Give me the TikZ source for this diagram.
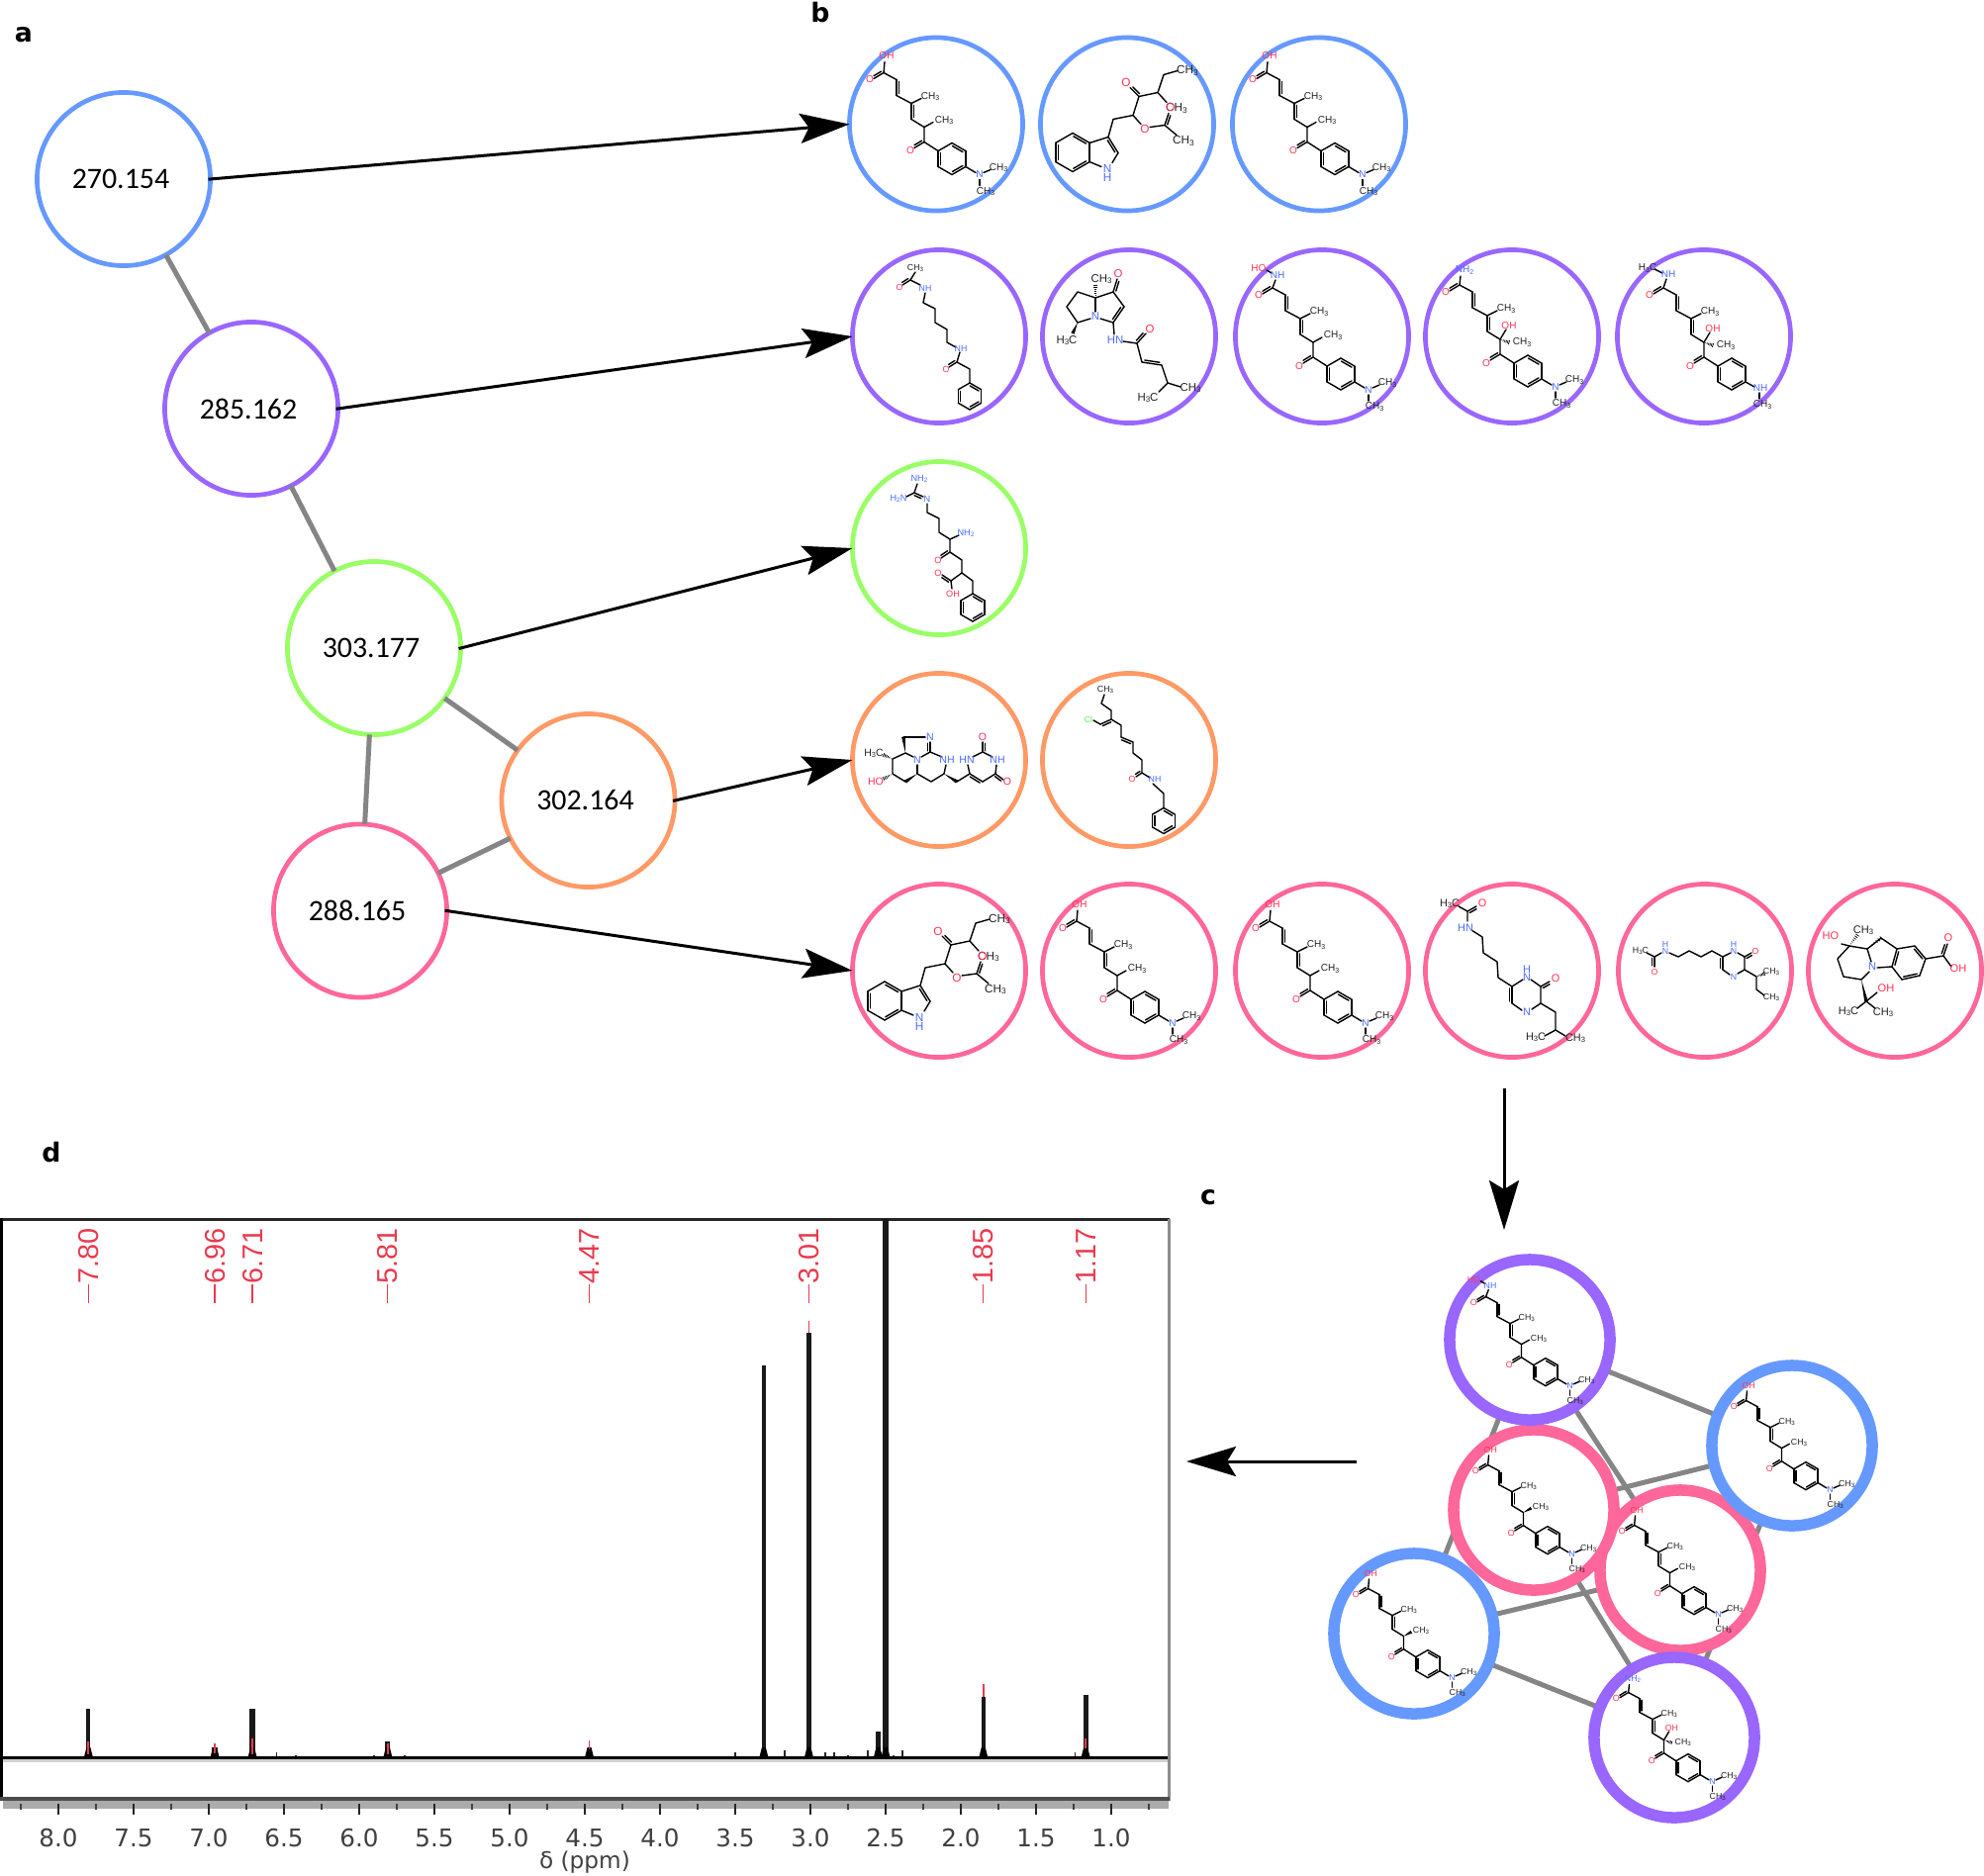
\documentclass[tikz,border=0pt]{standalone}
\usepackage{fontspec}
\setmainfont{Liberation Sans}
\newfontfamily\massfont{Carlito}
\newfontfamily\specfont{DejaVu Sans}
\usetikzlibrary{arrows.meta,calc,backgrounds}
\definecolor{cblue}{HTML}{6699FF}
\definecolor{cpurple}{HTML}{9966FF}
\definecolor{cgreen}{HTML}{99FF66}
\definecolor{corange}{HTML}{FF9966}
\definecolor{cpink}{HTML}{FF6699}
\definecolor{ared}{HTML}{FF3355}
\definecolor{ablue}{HTML}{4D6CFF}
\definecolor{agreen}{HTML}{55F055}
\definecolor{atxt}{HTML}{222222}
\definecolor{specred}{HTML}{E83A4E}
\definecolor{edgegray}{HTML}{858585}
\def\asz{2.85}
\newcommand\subn[1]{\raisebox{-.22ex}{\scalebox{.7}{#1}}}
\newcommand\CHt{CH\subn{3}}
\newcommand\HtC{H\subn{3}C}
\newcommand\NHt{NH\subn{2}}
\newcommand\HtN{H\subn{2}N}
\newcommand\mass[1]{\kern-.06cm\raisebox{-.015cm}{#1}}
\newcommand\atm[4]{\node[atomlabel,text=#3] at (#1,#2) {#4};}
\newcommand\mdbl[5]{%
 \pgfmathsetmacro\mL{veclen(#3-(#1),#4-(#2))}%
 \pgfmathsetmacro\mNx{-(#4-(#2))/\mL*2.4*(#5)}%
 \pgfmathsetmacro\mNy{(#3-(#1))/\mL*2.4*(#5)}%
 \pgfmathsetmacro\mDx{(#3-(#1))*.12}%
 \pgfmathsetmacro\mDy{(#4-(#2))*.12}%
 \draw[bond] (#1,#2)--(#3,#4);
 \draw[bond] ({#1+\mDx+\mNx},{#2+\mDy+\mNy})--({#3-\mDx+\mNx},{#4-\mDy+\mNy});}
\newcommand\mbenz[3]{%
 \pgfmathsetmacro\bL{#1-#3*.866}\pgfmathsetmacro\bR{#1+#3*.866}%
 \pgfmathsetmacro\bT{#2-#3}\pgfmathsetmacro\bU{#2-#3*.5}%
 \pgfmathsetmacro\bW{#2+#3*.5}\pgfmathsetmacro\bB{#2+#3}%
 \mdbl{#1}{\bT}{\bR}{\bU}{1}
 \draw[bond] (\bR,\bU)--(\bR,\bW);
 \mdbl{\bR}{\bW}{#1}{\bB}{1}
 \draw[bond] (#1,\bB)--(\bL,\bW);
 \mdbl{\bL}{\bW}{\bL}{\bU}{1}
 \draw[bond] (\bL,\bU)--(#1,\bT);}
\newcommand\mwdg[4]{\fill[black] (#1,#2)--($(#3,#4)!0.018cm!90:(#1,#2)$)--($(#3,#4)!0.018cm!-90:(#1,#2)$)--cycle;}
\newcommand\mhsh[4]{%
 \foreach \hh in {.2,.36,.52,.68,.84,1}{%
  \pgfmathsetmacro\hL{veclen(#3-(#1),#4-(#2))}%
  \pgfmathsetmacro\hx{#1+\hh*(#3-(#1))}\pgfmathsetmacro\hy{#2+\hh*(#4-(#2))}%
  \pgfmathsetmacro\ux{-(#4-(#2))/\hL*2*\hh}\pgfmathsetmacro\uy{(#3-(#1))/\hL*2*\hh}%
  \draw[line width=.007cm,black] ({\hx+\ux},{\hy+\uy})--({\hx-\ux},{\hy-\uy});}}
% common chain of the acid family
\newcommand\mchain{%
 \mdbl{-53}{-52}{-63}{-46}{1}
 \draw[bond] (-53,-52)--(-40,-45);
 \mdbl{-40}{-45}{-40}{-29}{-1}
 \draw[bond] (-40,-29)--(-25,-21);
 \draw[bond] (-25,-21)--(-15,-26);
 \mdbl{-25}{-21}{-25}{-5}{-1}
 \draw[bond] (-25,-5)--(-12,3)--(-12,18)--(2,27);
 \mdbl{-12}{18}{-22}{24}{1}
 \mbenz{16}{35}{16}
 \atm{-67}{-45}{ared}{O}
 \atm{-26}{27}{ared}{O}
 \atm{-6}{-28}{atxt}{\CHt}}
\newcommand\mheadOH{\draw[bond] (-53,-52)--(-52,-63); \atm{-50}{-69}{ared}{OH}}
\newcommand\mheadHONH{\draw[bond] (-53,-52)--(-50,-60); \draw[bond] (-59,-70)--(-54,-67); \atm{-48}{-65}{ablue}{NH} \atm{-67}{-72}{ared}{HO}}
\newcommand\mheadNHt{\draw[bond] (-53,-52)--(-52,-61); \atm{-48}{-67}{ablue}{\NHt}}
\newcommand\mheadMeNH{\draw[bond] (-53,-52)--(-50,-61); \draw[bond] (-62,-71)--(-54,-67); \atm{-48}{-66}{ablue}{NH} \atm{-69}{-72}{atxt}{\HtC}}
\newcommand\mbrPlain{\draw[bond] (-12,3)--(-3,-2); \atm{8}{-4}{atxt}{\CHt}}
\newcommand\mbrWedge{\mwdg{-12}{3}{-3}{-2} \atm{8}{-4}{atxt}{\CHt}}
\newcommand\mbrOH{\draw[bond] (-12,3)--(-6,-7); \mhsh{-12}{3}{-3}{6} \atm{-3}{-11}{ared}{OH} \atm{10}{6}{atxt}{\CHt}}
\newcommand\mtailNMe{\draw[bond] (30,43)--(40,49); \draw[bond] (48,49)--(55,46); \draw[bond] (44,56)--(44,62); \atm{44}{51}{ablue}{N} \atm{63}{44}{atxt}{\CHt} \atm{50}{68}{atxt}{\CHt}}
\newcommand\mtailNH{\draw[bond] (30,43)--(39,48); \draw[bond] (44,54)--(44,60); \atm{45}{49}{ablue}{NH} \atm{47}{66}{atxt}{\CHt}}
\tikzset{
 bond/.style={line width=.014cm,line cap=round,line join=round,black},
 atomlabel/.style={inner sep=0pt,outer sep=0pt,transform shape,font=\fontsize{\asz}{\asz}\selectfont},
 ring/.style={circle,draw=#1,fill=white,line width=.047cm,minimum size=1.75cm,inner sep=0pt,outer sep=0pt,font=\massfont\fontsize{8.5}{9}\selectfont},
 netring/.style={circle,draw=#1,fill=white,line width=.115cm,minimum size=1.62cm,inner sep=0pt,outer sep=0pt},
 link/.style={edgegray,line width=.05cm},
 ptr/.style={black,line width=.03cm,-{Stealth[length=.5cm,width=.3cm,inset=.09cm]}},
 panel/.style={inner sep=0pt,font=\specfont\bfseries\fontsize{7.6}{8}\selectfont},
 axislabel/.style={inner sep=0pt,text=black!75,font=\specfont\fontsize{7}{8}\selectfont},
 peaklabel/.style={inner sep=0pt,rotate=90,anchor=west,text=specred,font=\fontsize{8.2}{9}\selectfont},
 molA/.pic={\mchain \mheadOH \mbrPlain \mtailNMe},
 molAw/.pic={\mchain \mheadOH \mbrWedge \mtailNMe},
 molAh/.pic={\mchain \mheadHONH \mbrPlain \mtailNMe},
 molAn/.pic={\mchain \mheadNHt \mbrOH \mtailNMe},
 molAm/.pic={\mchain \mheadMeNH \mbrOH \mtailNH},
 molB/.pic={\def\asz{3.35}
  \mbenz{-55}{28.5}{19.5}
  \draw[bond] (-38,19)--(-19,13);
  \mdbl{-19}{13}{-9}{29}{1}
  \draw[bond] (-9,29)--(-15,39);
  \draw[bond] (-26,43)--(-38,38);
  \draw[bond] (-19,13)--(-14,-5)--(6,-9)--(14,0);
  \draw[bond] (6,-9)--(12,-28);
  \mdbl{12}{-28}{3}{-37}{1}
  \draw[bond] (12,-28)--(31,-32)--(37,-50)--(51,-54);
  \draw[bond] (31,-32)--(40,-22);
  \draw[bond] (23,3)--(38,1)--(50,11);
  \mdbl{38}{1}{42}{-11}{1}
  \atm{-20}{45}{ablue}{N} \atm{-20}{54}{ablue}{H}
  \atm{18}{5}{ared}{O} \atm{-1}{-42}{ared}{O}
  \atm{61}{-54}{atxt}{\CHt} \atm{50}{-16}{atxt}{\CHt}
  \atm{44}{-17}{ared}{O} \atm{57}{17}{atxt}{\CHt}},
 molC/.pic={\def\asz{2.5}
  \draw[bond] (-24,-65)--(-29,-57);
  \mdbl{-29}{-57}{-37}{-52}{1}
  \draw[bond] (-29,-57)--(-19,-52);
  \draw[bond] (-14,-44)--(-16,-34)--(-4,-28)--(-4,-14)--(8,-7)--(8,6)--(17,11);
  \draw[bond] (21,16)--(18,26)--(31,33)--(31,47);
  \mdbl{18}{26}{10}{31}{1}
  \mbenz{31}{60.5}{13.5}
  \atm{-24}{-69}{atxt}{\CHt} \atm{-40}{-50}{ared}{O} \atm{-14}{-49}{ablue}{NH}
  \atm{22}{12}{ablue}{NH} \atm{7}{33}{ared}{O}},
 molD/.pic={\def\asz{3.25}
  \draw[bond] (-34,-39)--(-52,-45)--(-63,-30)--(-52,-14)--(-39,-18);
  \draw[bond] (-34,-39)--(-34,-25);
  \draw[bond] (-29,-18)--(-16,-14);
  \mdbl{-16}{-14}{-5}{-30}{-1}
  \draw[bond] (-5,-30)--(-16,-45)--(-34,-39);
  \mdbl{-16}{-45}{-12}{-58}{1}
  \mhsh{-34}{-39}{-34}{-52}
  \mwdg{-52}{-14}{-57}{-3}
  \draw[bond] (-16,-14)--(-15,-2);
  \draw[bond] (-6,5)--(8,7)--(13,26);
  \mdbl{8}{7}{17}{-3}{-1}
  \mdbl{13}{26}{33}{29}{-1}
  \draw[bond] (33,29)--(39,47)--(30,56);
  \draw[bond] (39,47)--(52,51);
  \atm{-34}{-20}{ablue}{N} \atm{-14}{4}{ablue}{HN}
  \atm{-11}{-63}{ared}{O} \atm{21}{-7}{ared}{O}
  \atm{-28}{-58}{atxt}{\CHt} \atm{-63}{4}{atxt}{\HtC}
  \atm{19}{62}{atxt}{\HtC} \atm{62}{52}{atxt}{\CHt}},
 molE/.pic={\def\asz{2.6}
  \draw[bond] (-22,-65)--(-25,-56)--(-33,-52);
  \mdbl{-25}{-56}{-16}{-52}{1}
  \draw[bond] (-12,-45)--(-12,-36)--(0,-30)--(0,-16)--(11,-9)--(20,-13);
  \draw[bond] (11,-9)--(11,4)--(23,12)--(23,25)--(12,33)--(13,41);
  \mdbl{11}{4}{2}{10}{1}
  \mdbl{12}{33}{3}{27}{-1}
  \draw[bond] (23,25)--(34,33)--(34,46);
  \mbenz{34}{60}{14}
  \atm{-20}{-70}{ablue}{\NHt} \atm{-41}{-50}{ablue}{\HtN} \atm{-12}{-50}{ablue}{N}
  \atm{27}{-15}{ablue}{\NHt} \atm{-1}{12}{ared}{O} \atm{-1}{25}{ared}{O} \atm{14}{46}{ared}{OH}},
 molF/.pic={\def\asz{3}
  \mhsh{-47}{-1}{-56}{-5}
  \draw[bond] (-47,-1)--(-47,14)--(-34,22);
  \draw[bond] (-47,-1)--(-34,-7)--(-26,-3);
  \mhsh{-47}{14}{-56}{19}
  \mwdg{-22}{14}{-34}{22}
  \draw[bond] (-22,14)--(-22,5);
  \mwdg{-34}{-7}{-36}{-23}
  \draw[bond] (-36,-23)--(-14,-23);
  \mdbl{-9}{-18}{-9}{-8}{1}
  \draw[bond] (-18,-3)--(-9,-8)--(3,-3);
  \draw[bond] (-22,14)--(-8,22)--(5,14)--(7,5);
  \mwdg{5}{14}{18}{22}
  \draw[bond] (18,22)--(31,14)--(29,5);
  \mdbl{31}{14}{44}{22}{1}
  \draw[bond] (44,22)--(57,14)--(58,5);
  \mdbl{57}{14}{65}{20}{1}
  \draw[bond] (34,-3)--(44,-8)--(54,-3);
  \mdbl{44}{-8}{44}{-18}{1}
  \atm{-66}{-7}{atxt}{\HtC} \atm{-64}{22}{ared}{HO} \atm{-22}{0}{ablue}{N}
  \atm{-9}{-23}{ablue}{N} \atm{8}{0}{ablue}{NH} \atm{28}{0}{ablue}{HN}
  \atm{59}{0}{ablue}{NH} \atm{44}{-23}{ared}{O} \atm{69}{22}{ared}{O}},
 molG/.pic={\def\asz{2.5}
  \draw[bond] (-25,-66)--(-28,-57)--(-18,-50)--(-18,-41)--(-8,-35)--(-8,-23);
  \mdbl{-29}{-36}{-18}{-41}{1}
  \draw[bond] (-36,-40)--(-29,-36);
  \mdbl{-8}{-23}{4}{-18}{1}
  \draw[bond] (4,-18)--(4,-7)--(13,0)--(13,13)--(21,18);
  \mdbl{13}{13}{7}{17}{1}
  \draw[bond] (24,24)--(35,34)--(35,48);
  \mbenz{35}{61.5}{13}
  \atm{-24}{-71}{atxt}{\CHt} \atm{-41}{-41}{agreen}{Cl} \atm{3}{19}{ared}{O} \atm{26}{19}{ablue}{NH}},
 molH/.pic={\def\asz{3.1}
  \draw[bond] (-54,-65)--(-45,-60)--(-45,-50);
  \mdbl{-45}{-60}{-36}{-65}{1}
  \draw[bond] (-41,-41)--(-30,-34)--(-29,-18)--(-15,-9)--(-14,7)--(0,16)--(11,9);
  \mdbl{0}{33}{0}{16}{-1}
  \draw[bond] (0,33)--(10,40);
  \draw[bond] (19,9)--(29,16);
  \mdbl{29}{16}{38}{11}{1}
  \draw[bond] (29,16)--(29,33)--(20,39);
  \draw[bond] (29,33)--(44,42)--(44,60)--(33,66);
  \draw[bond] (44,60)--(54,66);
  \atm{-63}{-68}{atxt}{\HtC} \atm{-30}{-68}{ared}{O} \atm{-47}{-43}{ablue}{HN}
  \atm{15}{7}{ablue}{N} \atm{15}{-1}{ablue}{H} \atm{44}{8}{ared}{O}
  \atm{15}{42}{ablue}{N} \atm{24}{67}{atxt}{\HtC} \atm{64}{68}{atxt}{\CHt}},
 molI/.pic={\def\asz{2.5}
  \draw[bond] (-59,-18)--(-51,-14)--(-44,-18);
  \mdbl{-51}{-14}{-51}{-4}{1}
  \draw[bond] (-36,-18)--(-27,-14)--(-16,-20)--(-4,-14)--(7,-20)--(18,-14)--(26,-18);
  \mdbl{18}{-1}{18}{-14}{-1}
  \draw[bond] (18,-1)--(25,4);
  \draw[bond] (33,-18)--(40,-14);
  \mdbl{40}{-14}{47}{-18}{1}
  \draw[bond] (40,-14)--(40,-1)--(33,3);
  \draw[bond] (40,-1)--(52,6)--(52,19)--(60,25);
  \mhsh{52}{6}{60}{3}
  \atm{-65}{-20}{atxt}{\HtC} \atm{-51}{1}{ared}{O} \atm{-40}{-20}{ablue}{N}
  \atm{-40}{-27}{ablue}{H} \atm{29}{-20}{ablue}{N} \atm{29}{-27}{ablue}{H}
  \atm{51}{-20}{ared}{O} \atm{29}{6}{ablue}{N} \atm{67}{1}{atxt}{\CHt} \atm{67}{27}{atxt}{\CHt}},
 molJ/.pic={\def\asz{3.15}
  \draw[bond] (-46,-25)--(-58,-12)--(-52,6)--(-34,9)--(-26,1);
  \draw[bond] (-46,-25)--(-28,-22)--(-24,-9);
  \draw[bond] (-54,-27)--(-46,-25);
  \mhsh{-46}{-25}{-38}{-36}
  \mhsh{-28}{-22}{-14}{-33}
  \draw[bond] (-28,-22)--(-14,-33)--(2,-22);
  \draw[bond] (-18,-3)--(-3,-4);
  \mdbl{-3}{-4}{2}{-22}{1}
  \draw[bond] (2,-22)--(20,-25);
  \mdbl{20}{-25}{31}{-12}{1}
  \draw[bond] (31,-12)--(25,5);
  \mdbl{25}{5}{7}{9}{1}
  \draw[bond] (7,9)--(-3,-4);
  \draw[bond] (31,-12)--(49,-15)--(57,-4);
  \mdbl{49}{-15}{53}{-27}{-1}
  \mwdg{-34}{9}{-29}{31}
  \draw[bond] (-29,31)--(-18,22);
  \draw[bond] (-29,31)--(-38,38);
  \draw[bond] (-29,31)--(-20,38);
  \atm{-23}{-4}{ablue}{N} \atm{-65}{-35}{ared}{HO} \atm{-32}{-41}{atxt}{\CHt}
  \atm{54}{-33}{ared}{O} \atm{64}{-2}{ared}{OH} \atm{-9}{18}{ared}{OH}
  \atm{-47}{41}{atxt}{\HtC} \atm{-12}{42}{atxt}{\CHt}}
}
\begin{document}
\begin{tikzpicture}[x=.01cm,y=-.01cm]
\useasboundingbox (0,0) rectangle (2005,1896);
% panel letters
\node[panel] (la) at (24,35) {a};
\node[panel] (lb) at (829,13) {b};
\node[panel] (lc) at (1221,1210) {c};
\node[panel] (ld) at (52,1165) {d};
% panel a
\node[ring=cblue] (n270) at (125,181) {\mass{270.154}};
\node[ring=cpurple] (n285) at (254,413) {\mass{285.162}};
\node[ring=cgreen] (n303) at (378,655) {\mass{303.177}};
\node[ring=corange] (n302) at (594.5,809) {\mass{302.164}};
\node[ring=cpink] (n288) at (364,920.5) {\mass{288.165}};
\draw[link] (n270)--(n285);
\draw[link] (n285)--(n303);
\draw[link] (n303)--(n302);
\draw[link] (n303)--(n288);
\draw[link] (n302)--(n288);
% panel b, row 1
\node[ring=cblue] (b11) at (946,125.5) {}; \pic at (b11) {molA};
\node[ring=cblue] (b12) at (1139,125.5) {}; \pic at (b12) {molB};
\node[ring=cblue] (b13) at (1333,125.5) {}; \pic at (b13) {molA};
% row 2
\node[ring=cpurple] (b21) at (949,340) {}; \pic at (b21) {molC};
\node[ring=cpurple] (b22) at (1141,340) {}; \pic at (b22) {molD};
\node[ring=cpurple] (b23) at (1336,340) {}; \pic at ($(b23)+(3,3)$) {molAh};
\node[ring=cpurple] (b24) at (1528,340) {}; \pic at (b24) {molAn};
\node[ring=cpurple] (b25) at (1722,340) {}; \pic at ($(b25)+(12,3)$) {molAm};
% row 3
\node[ring=cgreen] (b31) at (949,554) {}; \pic at (b31) {molE};
% row 4
\node[ring=corange] (b41) at (949,768) {}; \pic at (b41) {molF};
\node[ring=corange] (b42) at (1141,768) {}; \pic at (b42) {molG};
% row 5
\node[ring=cpink] (b51) at (949,981) {}; \pic at ($(b51)+(0,2)$) {molB};
\node[ring=cpink] (b52) at (1141,981) {}; \pic at ($(b52)+(0,2)$) {molA};
\node[ring=cpink] (b53) at (1336,981) {}; \pic at ($(b53)+(0,2)$) {molA};
\node[ring=cpink] (b54) at (1528,981) {}; \pic at (b54) {molH};
\node[ring=cpink] (b55) at (1723,981) {}; \pic at (b55) {molI};
\node[ring=cpink] (b56) at (1915,981) {}; \pic at (b56) {molJ};
% arrows a -> b
\draw[ptr,shorten <=-.02cm] (n270.east)--(b11.west);
\draw[ptr,shorten <=-.02cm] (n285.east)--(b21.west);
\draw[ptr,shorten <=-.02cm] (n303.east)--(b31.west);
\draw[ptr,shorten <=-.02cm] (n302.east)--(b41.west);
\draw[ptr,shorten <=-.02cm] (n288.east)--(b51.west);
% flow arrows
\coordinate (fa) at (1520,1100);
\coordinate (fb) at (1520,1243);
\coordinate (fc) at (1371,1477);
\coordinate (fd) at (1199,1477);
\draw[ptr] (fa)--(fb);
\draw[ptr] (fc)--(fd);
% panel c
\node[netring=cpink] (cPR) at (1698,1587) {}; \pic[scale=.875,transform shape] at (cPR) {molA};
\node[netring=cpink] (cPL) at (1550,1526) {}; \pic[scale=.875,transform shape] at (cPL) {molAw};
\node[netring=cpurple] (cUT) at (1546,1354) {}; \pic[scale=.875,transform shape] at ($(cUT)+(2,2)$) {molAh};
\node[netring=cblue] (cBR) at (1811,1461) {}; \pic[scale=.875,transform shape] at (cBR) {molA};
\node[netring=cblue] (cBL) at (1429,1651) {}; \pic[scale=.875,transform shape] at (cBL) {molAw};
\node[netring=cpurple] (cUB) at (1692,1756) {}; \pic[scale=.875,transform shape] at (cUB) {molAn};
\begin{scope}[on background layer]
\draw[link] (cUT.center)--(cBR.center);
\draw[link] (cUT.center)--(cPR.center);
\draw[link] (cUT.center)--(cBL.center);
\draw[link] (cPL.center)--(cBR.center);
\draw[link] (cBL.center)--(cPR.center);
\draw[link] (cBL.center)--(cUB.center);
\draw[link] (cPL.center)--(cUB.center);
\draw[link] (cBR.center)--(cUB.center);
\end{scope}
% panel d: spectrum
\fill[black!18] (3,1777) rectangle (1180,1781);
\fill[black!33] (3,1820) rectangle (1181,1828);
\draw[black!85,line width=.03cm] (0,1232)--(1182,1232);
\draw[black!45,line width=.03cm] (1181,1232)--(1181,1820);
\draw[black,line width=.025cm] (1.5,1231)--(1.5,1820);
\draw[black!70,line width=.035cm] (0,1818)--(1182,1818);
\foreach \v in {8.25,7.75,7.25,6.75,6.25,5.75,5.25,4.75,4.25,3.75,3.25,2.75,2.25,1.75,1.25,.75}{
 \pgfmathsetmacro\xx{59+(8-\v)*152}
 \draw[black!75,line width=.012cm] (\xx,1823)--(\xx,1829);}
\foreach \v [count=\ci] in {8.0,7.5,7.0,6.5,6.0,5.5,5.0,4.5,4.0,3.5,3.0,2.5,2.0,1.5,1.0}{
 \pgfmathsetmacro\xx{59+(8-\v)*152}
 \draw[black!85,line width=.015cm] (\xx,1823)--(\xx,1834);
 \node[axislabel] (ax\ci) at (\xx,1858) {\v};}
\node[axislabel,font=\specfont\fontsize{6.6}{8}\selectfont] (axt) at (591,1882) {δ (ppm)};
\foreach \s [count=\ci] in {7.80,6.96,6.71,5.81,4.47,3.01,1.85,1.17}{
 \pgfmathsetmacro\xx{59+(8-\s)*152}
 \node[peaklabel] (pl\ci) at (\xx,1298) {\s};
 \draw[specred,line width=.012cm] (\xx,1298)--(\xx,1317);}
% small peaks
\foreach \d/\t in {6.55/1771,3.5/1771,3.17/1769,2.9/1771,2.84/1771,2.62/1769,2.39/1769,1.24/1771,6.42/1774,5.9/1774,5.7/1774,2.75/1774,2.45/1774}{
 \pgfmathsetmacro\xx{59+(8-\d)*152}
 \draw[black!85,line width=.018cm] (\xx,1776)--(\xx,\t);}
% main peaks: delta / top / width
\foreach \d/\t/\w in {7.8/1727/.04,6.96/1766/.06,6.71/1727/.055,5.81/1760/.05,4.47/1767/.045,3.31/1380/.045,3.01/1347/.045,2.55/1750/.045,2.5/1232/.055,1.85/1715/.042,1.17/1713/.05}{
 \pgfmathsetmacro\xx{59+(8-\d)*152}
 \draw[black!90,line width=\w cm] (\xx,1776)--(\xx,\t);
 \fill[black] (\xx-4.5,1776)--(\xx-2,1766)--(\xx+2,1766)--(\xx+4.5,1776)--cycle;}
% baseline
\draw[black,line width=.03cm] (3,1776)--(1180,1776);
% red integration marks
\foreach \d/\a/\b in {7.8/1760/1773,6.96/1762/1772,6.71/1757/1773,5.81/1762/1773,4.47/1759/1768,3.01/1335/1347,1.85/1702/1715,1.17/1757/1767}{
 \pgfmathsetmacro\xx{59+(8-\d)*152}
 \draw[specred,line width=.018cm] (\xx,\a)--(\xx,\b);}
\end{tikzpicture}
\end{document}
